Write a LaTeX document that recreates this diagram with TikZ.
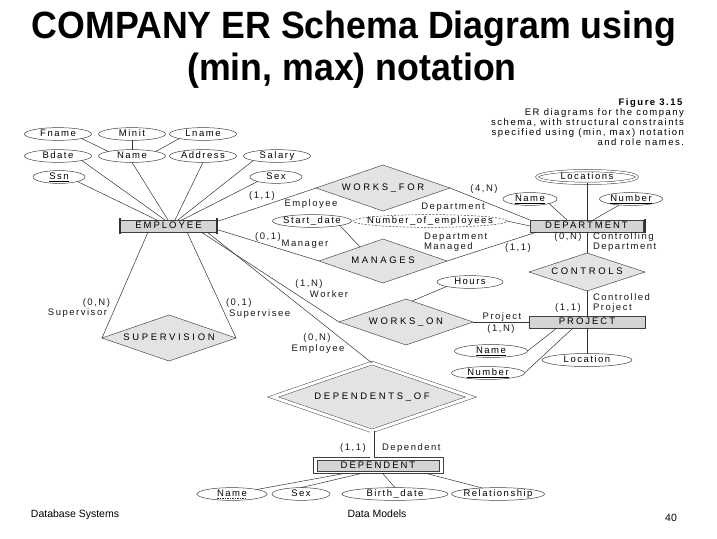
\documentclass[tikz,border=0pt]{standalone}
\usepackage{fontspec}
\usepackage{graphicx}
\setmainfont{Liberation Sans}
\newfontfamily\erfont[LetterSpace=16]{Liberation Sans}
\newfontfamily\capfont[LetterSpace=28]{Liberation Sans}
\newfontfamily\entfont[LetterSpace=21]{Liberation Sans}
\usetikzlibrary{shapes.geometric,calc}
\newcommand\zw[1]{\makebox[0pt]{\rule[-2pt]{0pt}{9pt}#1}}
\tikzset{
  every node/.style={inner sep=0pt, outer sep=0pt},
  erf/.style={font=\erfont\fontsize{9.5}{10}\selectfont},
  capf/.style={font=\capfont\fontsize{9.5}{10}\selectfont},
  lbl/.style={erf, text=black!90, text height=7pt, text depth=2pt},
  ent/.style={rectangle, draw=black!75, fill=black!17, line width=0.6pt, font=\entfont\fontsize{9.5}{10}\selectfont, minimum height=12pt},
  bar/.style={draw=black!80, line width=1.3pt},
  rel/.style={diamond, draw=black!70, fill=black!11, line width=0.5pt, capf},
  attr/.style={ellipse, draw=black!75, line width=0.5pt, minimum height=12pt, erf},
  conn/.style={draw=black!80, line width=0.5pt},
}
\begin{document}
\begin{tikzpicture}[x=1pt,y=-1pt]
\fill[white] (0,0) rectangle (717,538);
\useasboundingbox (0,0) rectangle (717,538);

% title
\node[anchor=base, font=\bfseries\fontsize{38}{44}\selectfont] (t1) at (354,38) {\scalebox{0.94}[1]{COMPANY ER Schema Diagram using}};
\node[anchor=base, font=\bfseries\fontsize{38}{44}\selectfont] (t2) at (352,80) {\scalebox{0.94}[1]{(min, max) notation}};

% caption
\node[anchor=north east, align=right, font=\erfont\fontsize{9.5}{9.8}\selectfont] (cap) at (684,99)
  {\textbf{Figure 3.15}\\ER diagrams for the company\\schema, with structural constraints\\specified using (min, max) notation\\and role names.};

% entities
\node[ent, minimum width=97pt] (emp) at (168.5,226) {\zw{EMPLOYEE}};
\node[ent, minimum width=113pt] (dept) at (586.5,226) {\zw{DEPARTMENT}};
\node[ent, minimum width=116pt] (proj) at (587,322) {\zw{PROJECT}};
\node[ent, minimum width=122pt, minimum height=10.5pt] (dep) at (378,466) {\zw{DEPENDENT}};
\draw[draw=black!75, line width=0.7pt] ($(dep.north west)+(-4,-3)$) rectangle ($(dep.south east)+(4,2)$);
\draw[bar] ($(emp.north west)+(0,-2)$) -- ($(emp.south west)+(0,2)$);
\draw[bar] ($(emp.north east)+(0,-2)$) -- ($(emp.south east)+(0,2)$);
\draw[bar] ($(dept.north east)+(2,-1)$) -- ($(dept.south east)+(2,1)$);
\draw[bar] ($(proj.north east)+(0.5,0)$) -- ($(proj.south east)+(0.5,0)$);
\draw[bar, line width=1pt] ($(dep.north west)+(-4,-3)$) -- ($(dep.south west)+(-4,2)$);

% relationships
\node[rel, minimum width=134pt, minimum height=46pt] (wf) at (383,188) {\zw{WORKS\_FOR}};
\node[rel, minimum width=128pt, minimum height=44pt] (man) at (383,261) {\zw{MANAGES}};
\node[rel, minimum width=116pt, minimum height=38pt] (ctrl) at (587,272) {\zw{CONTROLS}};
\node[rel, minimum width=134pt, minimum height=46pt] (wo) at (406,322) {\zw{WORKS\_ON}};
\node[rel, minimum width=134pt, minimum height=46pt] (sup) at (169,338) {\zw{SUPERVISION}};
\node[rel, double, double distance=3pt, minimum width=198pt, minimum height=68pt] (dof) at (372,397) {\zw{DEPENDENTS\_OF}};

% employee attributes
\node[attr, minimum width=67pt] (fname) at (58,134) {\zw{Fname}};
\node[attr, minimum width=67pt] (minit) at (132,134) {\zw{Minit}};
\node[attr, minimum width=67pt] (lname) at (203,134) {\zw{Lname}};
\node[attr, minimum width=67pt] (bdate) at (58,156) {\zw{Bdate}};
\node[attr, minimum width=67pt] (name) at (132,156) {\zw{Name}};
\node[attr, minimum width=67pt] (address) at (203,156) {\zw{Address}};
\node[attr, minimum width=67pt] (salary) at (277,156) {\zw{Salary}};
\node[attr, minimum width=52pt] (ssn) at (59,177) {\zw{\underline{Ssn}}};
\node[attr, minimum width=52pt] (sex) at (276,177) {\zw{Sex}};
\node[attr, minimum width=79pt] (start) at (312,221) {\zw{Start\_date}};
\node[attr, minimum width=154pt, dash pattern=on 2pt off 1.5pt] (noe) at (430,221) {\zw{Number\_of\_employees}};

% department attributes
\node[attr, double, double distance=1.8pt, minimum width=100pt, minimum height=11pt] (loc) at (587,177) {\zw{Locations}};
\node[attr, minimum width=54pt] (dname) at (530,199) {\zw{\underline{Name}}};
\node[attr, minimum width=63pt] (dnum) at (631,199) {\zw{\underline{Number}}};

% project attributes
\node[attr, minimum width=66pt] (hours) at (470,282) {\zw{Hours}};
\node[attr, minimum width=73pt] (pname) at (491,351) {\zw{\underline{Name}}};
\node[attr, minimum width=73pt] (pnum) at (488,373) {\zw{\underline{Number}}};
\node[attr, minimum width=90pt, minimum height=13pt] (ploc) at (587,360) {\zw{Location}};

% dependent attributes
\node[attr, minimum width=70pt] (dpname) at (232,494) {\zw{Name}};
\draw[black!80, line width=0.5pt, dash pattern=on 1.5pt off 1pt] ($(dpname.center)+(-15,4.6)$) -- ($(dpname.center)+(15,4.6)$);
\node[attr, minimum width=58pt] (dpsex) at (301,494) {\zw{Sex}};
\node[attr, minimum width=106pt] (dpbirth) at (395,494) {\zw{Birth\_date}};
\node[attr, minimum width=93pt] (dprel) at (498,494) {\zw{Relationship}};

% connectors: employee attributes
\draw[conn] (fname.south east) -- (name.north west);
\draw[conn] (minit.south) -- (name.north);
\draw[conn] (lname.south west) -- (name.north east);
\draw[conn] (ssn.south east) -- ($(emp.north west)+(37,0)$);
\draw[conn] (bdate.south east) -- ($(emp.north west)+(45,0)$);
\draw[conn] (name.south) -- ($(emp.north west)+(48,0)$);
\draw[conn] (address.south) -- ($(emp.north west)+(55,0)$);
\draw[conn] (salary.south west) -- ($(emp.north west)+(58,0)$);
\draw[conn] (sex.south west) -- ($(emp.north west)+(62,0)$);

% employee relationships
\draw[conn] ($(emp.north east)+(0,1.5)$) -- (wf.west);
\draw[conn] ($(emp.south east)+(0,-2.5)$) -- (man.west);
\draw[conn] ($(emp.south west)+(28,0)$) -- (sup.west);
\draw[conn] ($(emp.south west)+(67,0)$) -- (sup.east);
\draw[conn] ($(emp.south west)+(81,0)$) -- (wo.west);
\draw[conn] ($(emp.south west)+(87,0)$) -- (dof.north);

% department
\draw[conn] (wf.east) -- (dept.north west);
\draw[conn] (noe.east) -- (dept.west);
\draw[conn] (man.east) -- ($(dept.south west)+(7,0)$);
\draw[conn] (start.south east) -- ($(man.west)!0.64!(man.north)$);
\draw[conn] (dname.south east) -- ($(dept.north west)+(37,0)$);
\draw[conn] (dnum.-153) -- ($(dept.north west)+(63,0)$);
\draw[conn] (loc.south) -- (loc.south |- dept.north);
\draw[conn] (ctrl.north |- dept.south) -- (ctrl.north);
\draw[conn] (ctrl.south) -- (ctrl.south |- proj.north);

% project
\draw[conn] (wo.east) -- (proj.west);
\draw[conn] (hours.south west) -- ($(wo.north)!0.09!(wo.east)$);
\draw[conn] (pname.east) -- ($(proj.south west)+(28,0)$);
\draw[conn] (pnum.east) -- ($(proj.south west)+(44,0)$);
\draw[conn] (proj.south) -- (ploc.north);

% dependent
\draw[conn, double, double distance=4pt] (dof.south) -- ($(dof.south |- dep.north)+(0,-3)$);
\draw[conn] (dpname.north east) -- ($(dep.south west)+(28.5,2)$);
\draw[conn] (dpsex.north) -- ($(dep.south west)+(45.5,2)$);
\draw[conn] (dpbirth.north) -- ($(dep.south west)+(65.5,2)$);
\draw[conn] (dprel.159) -- ($(dep.south west)+(108.5,2)$);

% role names and constraints
\node[lbl] (l1) at (262,196) {(1,1)};
\node[lbl] (l2) at (311,204) {Employee};
\node[lbl] (l3) at (484,189) {(4,N)};
\node[lbl] (l4) at (453,207) {Department};
\node[lbl] (l5) at (268,237) {(0,1)};
\node[lbl] (l6) at (305,244) {Manager};
\node[lbl, anchor=west] (l7a) at (424,237) {Department};
\node[lbl, anchor=west] (l7b) at (424,247) {Managed};
\node[lbl] (l8) at (518,248) {(1,1)};
\node[lbl] (l9) at (568,237) {(0,N)};
\node[lbl, anchor=west] (l10a) at (593,237) {Controlling};
\node[lbl, anchor=west] (l10b) at (593,247) {Department};
\node[lbl, anchor=west] (l11a) at (593,298) {Controlled};
\node[lbl, anchor=west] (l11b) at (593,308) {Project};
\node[lbl] (l12) at (568,308) {(1,1)};
\node[lbl] (l13) at (502,317) {Project};
\node[lbl] (l14) at (501,329) {(1,N)};
\node[lbl] (l15) at (309,284) {(1,N)};
\node[lbl] (l16) at (329,295) {Worker};
\node[lbl, anchor=east] (l17) at (110,303) {(0,N)};
\node[lbl, anchor=east] (l18) at (107,313) {Supervisor};
\node[lbl, anchor=west] (l19) at (226,303) {(0,1)};
\node[lbl, anchor=west] (l20) at (229,314) {Supervisee};
\node[lbl] (l21) at (317,338) {(0,N)};
\node[lbl] (l22) at (318,349) {Employee};
\node[lbl] (l23) at (353,448) {(1,1)};
\node[lbl, anchor=west] (l24) at (382,448) {Dependent};

% footer
\node[font=\fontsize{10.5}{12}\selectfont] (f1) at (75,515) {Database Systems};
\node[font=\fontsize{10.5}{12}\selectfont] (f2) at (377,514) {Data Models};
\node[font=\fontsize{10.5}{12}\selectfont] (f3) at (671,518) {40};
\end{tikzpicture}
\end{document}
